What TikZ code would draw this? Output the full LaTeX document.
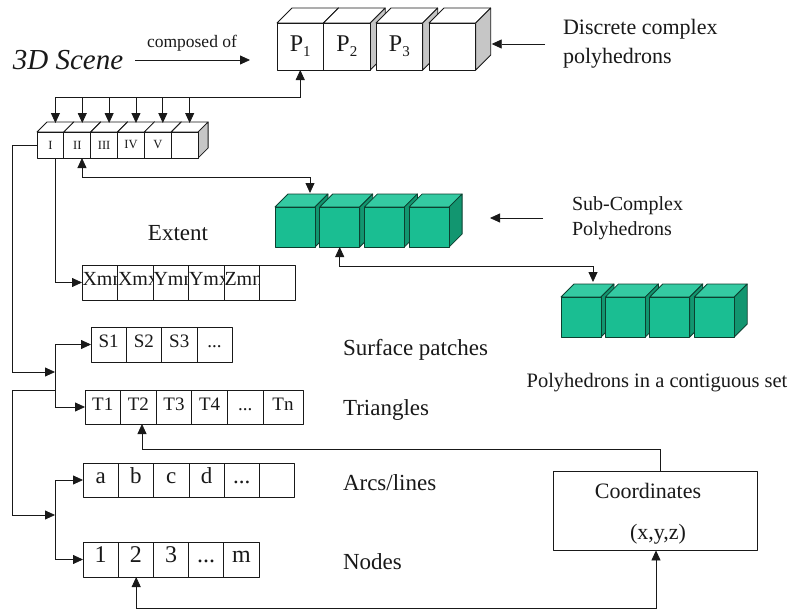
\documentclass[tikz,border=0pt]{standalone}
\usepackage{fontspec}
\setmainfont{Liberation Serif}
\usetikzlibrary{arrows.meta,calc}

\definecolor{ink}{RGB}{25,25,25}
\definecolor{shade}{RGB}{198,198,198}
\definecolor{tealfront}{RGB}{26,190,146}
\definecolor{tealtop}{RGB}{52,202,162}
\definecolor{tealside}{RGB}{18,150,112}
\definecolor{tealedge}{RGB}{12,64,48}

\newcommand\fs[1]{\fontsize{#1}{#1}\selectfont}
\newcommand\subidx[1]{\raisebox{-0.45ex}{\fs{15}#1}}
\newcommand\etcdots{...}

% box with a top face and a right face
% #1 style family, #2 node name, #3 left, #4 top, #5 width, #6 height, #7 depth, #8 text
\newcommand\drawcube[8]{%
  \path[#1top] ({#3},{#4}) -- ++(#7,-#7) -- ++(#5,0) -- ++(-#7,#7) -- cycle;
  \path[#1side] ({#3+#5},{#4}) -- ++(#7,-#7) -- ++(0,#6) -- ++(-#7,#7) -- cycle;
  \node[#1front, minimum width=#5pt, minimum height=#6pt] (#2) at ({#3},{#4}) {#8};
}

\begin{document}
\begin{tikzpicture}[x=1pt, y=-1pt,
  stroke/.style={line width=0.8pt, line join=round},
  whitetop/.style={stroke, draw=ink, fill=white},
  whiteside/.style={stroke, draw=ink, fill=shade},
  whitefront/.style={stroke, draw=ink, fill=white, anchor=north west, inner sep=0pt, outer sep=0pt, text=ink},
  greentop/.style={stroke, draw=tealedge, fill=tealtop},
  greenside/.style={stroke, draw=tealedge, fill=tealside},
  greenfront/.style={stroke, draw=tealedge, fill=tealfront, anchor=north west, inner sep=0pt, outer sep=0pt},
  cell/.style={stroke, draw=ink, fill=white, anchor=north west, inner sep=0pt, outer sep=0pt, text=ink,
    text height=0.68em, text depth=0.08em},
  lbl/.style={inner sep=0pt, outer sep=0pt, text=ink},
  link/.style={draw=ink, line width=0.8pt},
  arr/.style={link, -{Triangle[length=10pt,width=9pt]}},
  arrboth/.style={link, {Triangle[length=10pt,width=9pt]}-{Triangle[length=10pt,width=9pt]}},
]
\fill[white] (0,0) rectangle (792,610);
\useasboundingbox (0,0) rectangle (792,610);

% ---- scene and its polyhedrons
\node[lbl, font=\fs{29}\itshape] (scene) at (68,60) {3D Scene};
\node[lbl, font=\fs{17.5}] (composed) at (192,43) {composed of};

\drawcube{white}{p1}{277}{23}{46.5}{47}{15}{\fs{24}P\subidx{1}}
\drawcube{white}{p2}{323.5}{23}{46.7}{47}{15}{\fs{24}P\subidx{2}}
\drawcube{white}{p3}{376}{23}{46.7}{47}{15}{\fs{24}P\subidx{3}}
\drawcube{white}{p4}{429}{23}{46.7}{47}{15}{}

\draw[arr] ([xshift=12pt]scene.east) -- ([xshift=-27pt]scene.east -| p1.west);

\node[lbl, anchor=west, align=left, font=\fontsize{22}{29}\selectfont] (discrete) at (563,44) {Discrete complex\\polyhedrons};
\coordinate (p4r) at ([xshift=16pt]p4.east);
\draw[arr] ([xshift=-18pt]discrete.west) -- (p4r |- discrete.west);

% ---- index row
\foreach \lbl [count=\i] in {I,II,III,IV,V,{}}
  \drawcube{white}{c\i}{37+26.85*(\i-1)}{132}{26.85}{26}{10}{\fs{12.5}\lbl};

\draw[arr] ($(c1.north)+(6,-35)$) -| (p1.south);
\foreach \i in {1,2,3,4,5,6}
  \draw[arr] ($(c\i.north)+(5,-35)$) -- ($(c\i.north)+(5,-9)$);

% ---- sub-complex polyhedrons
\foreach \i in {1,2,3,4}
  \drawcube{green}{g\i}{275+44.7*(\i-1)}{207}{40}{40}{13}{};
\foreach \i in {1,2,3,4}
  \drawcube{green}{h\i}{561+44.4*(\i-1)}{297}{40}{40}{13}{};

\draw[arrboth] ($(c2.south)+(4.7,0)$) |- ($(g1.north)+(15,-30)$) -- ($(g1.north)+(15,-14)$);
\draw[arrboth] (g2.south) |- ($(h1.north)+(12,-31)$) -- ($(h1.north)+(12,-15)$);

\node[lbl, anchor=west, align=left, font=\fontsize{20}{25}\selectfont] (subcx) at (572,218) {Sub-Complex\\Polyhedrons};
\draw[arr] ([xshift=-29pt]subcx.west) -- ([xshift=-82pt]subcx.west);

\node[lbl, font=\fs{20.5}] (contig) at (657,383) {Polyhedrons in a contiguous set};

% ---- extent
\node[lbl, font=\fs{23}] (extent) at (178,233) {Extent};
\foreach \lbl [count=\i] in {Xmn,Xmx,Ymn,Ymx,Zmn,{}}
  \node[cell, minimum width=35.5pt, minimum height=35pt] (e\i) at ({82+35.5*(\i-1)},265)
    {\fs{20}\makebox[35.5pt][l]{\hspace{0.5pt}\lbl}};
\draw[arr] ($(c1.south)+(4.5,0)$) |- (e1.west);

% ---- surface patches and triangles
\foreach \lbl [count=\i] in {S1,S2,S3,\etcdots}
  \node[cell, minimum width=35.3pt, minimum height=35pt, font=\fs{19}] (s\i) at ({91+35.3*(\i-1)},327) {\lbl};
\foreach \lbl/\w [count=\i] in {T1/35.6,T2/35.6,T3/35.6,T4/35.6,\etcdots/35.6,Tn/40}
  \node[cell, minimum width=\w pt, minimum height=34pt, font=\fs{19}] (t\i) at ({85+35.6*(\i-1)},390) {\lbl};

\node[lbl, anchor=west, font=\fs{23}] (surf) at (343,350) {Surface patches};
\node[lbl, anchor=west, font=\fs{23}] (tri) at (343,410) {Triangles};

\coordinate (lane) at (12,0);
\coordinate (fork1) at (55,372);
\coordinate (tap) at (55,390);
\coordinate (fork2) at (55,515);

\draw[arr] (c1.west) -| (lane |- fork1) -- (fork1);
\draw[arr] (fork1) |- (s1.west);
\draw[arr] (fork1) |- (t1.west);
\draw[arr] (tap) -- (lane |- tap) -- (lane |- fork2) -- (fork2);

% ---- arcs and nodes
\foreach \lbl [count=\i] in {a,b,c,d,\etcdots,{}}
  \node[cell, minimum width=35.3pt, minimum height=34pt, font=\fs{23}] (a\i) at ({83+35.3*(\i-1)},463) {\lbl};
\foreach \lbl [count=\i] in {1,2,3,\etcdots,m}
  \node[cell, minimum width=35.2pt, minimum height=35pt, font=\fs{24}] (n\i) at ({83+35.2*(\i-1)},542) {\lbl};

\node[lbl, anchor=west, font=\fs{23}] (arcs) at (343,483) {Arcs/lines};
\node[lbl, anchor=west, font=\fs{23}] (nodes) at (343,562) {Nodes};

\draw[arr] (fork2) |- (a1.west);
\draw[arr] (fork2) |- (n1.west);

% ---- coordinates
\node[stroke, draw=ink, fill=white, minimum width=204pt, minimum height=79pt, inner sep=0pt] (coords) at (655,510.5) {};
\node[lbl, font=\fs{22}] (coordtitle) at (648,491) {Coordinates};
\node[lbl, font=\fs{22}] (xyz) at (658,534) {(x,y,z)};

\draw[arr] ($(coords.north)+(5,0)$) |- ($(t2.south)+(3.6,25)$) -- ($(t2.south)+(3.6,0)$);
\draw[arrboth] ($(n2.south)+(0.4,0)$) |- ($(coords.south)+(1,58)$) -- ($(coords.south)+(1,0)$);
\end{tikzpicture}
\end{document}
